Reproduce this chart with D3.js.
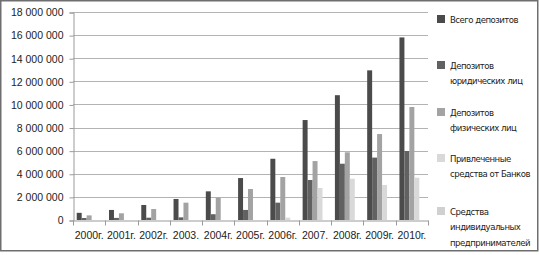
<!DOCTYPE html>
<html>
<head>
<meta charset="utf-8">
<script src="https://cdn.jsdelivr.net/npm/d3@7"></script>
<style>
  body { margin: 0; background: #fff; }
  svg { display: block; }
</style>
</head>
<body>
<div id="chart"></div>
<script>
const years = ["2000г.", "2001г.", "2002г.", "2003.", "2004г.", "2005г.", "2006г.", "2007.", "2008г.", "2009г.", "2010г."];

const seriesNames = [
    ["Всего депозитов"],
    ["Депозитов", "юридических лиц"],
    ["Депозитов", "физических лиц"],
    ["Привлеченные", "средства от Банков"],
    ["Средства", "индивидуальных", "предпринимателей"]
];

const totalDeposits = [620000, 870000, 1300000, 1820000, 2480000, 3630000, 5300000, 8650000, 10800000, 12950000, 15800000];
const legalDeposits = [170000, 180000, 200000, 230000, 500000, 870000, 1500000, 3460000, 4870000, 5400000, 5970000];
const privateDeposits = [400000, 580000, 950000, 1500000, 1930000, 2680000, 3720000, 5100000, 5860000, 7440000, 9780000];
const bankFunds = [0, 0, 0, 0, 0, 0, 200000, 2770000, 3570000, 3030000, 3660000];
const entrepreneurFunds = [0, 0, 0, 0, 0, 0, 0, 0, 0, 0, 0];

const yTicks = [0, 2000000, 4000000, 6000000, 8000000, 10000000, 12000000, 14000000, 16000000, 18000000];

const colors = ["#4b4b4b", "#616161", "#a3a3a3", "#d9d9d9", "#d0d0d0"];
const allSeries = [totalDeposits, legalDeposits, privateDeposits, bankFunds, entrepreneurFunds];

const width = 539, height = 255;
const margin = { left: 73, right: 111, top: 12, bottom: 35 };

const svg = d3.select("#chart").append("svg")
    .attr("width", width)
    .attr("height", height);

// outer frame
svg.append("rect")
    .attr("x", 0.75).attr("y", 0.75)
    .attr("width", width - 2).attr("height", 250)
    .attr("fill", "#fff")
    .attr("stroke", "#6f6f6f")
    .attr("stroke-width", 1.5);

const x = d3.scaleBand()
    .domain(years)
    .range([margin.left, width - margin.right]);

const bw = x.bandwidth();
const barW = bw / 6.5;
const x1 = d3.scaleBand()
    .domain(d3.range(5))
    .range([barW * 0.75, bw - barW * 0.75]);

const y = d3.scaleLinear()
    .domain([0, 18000000])
    .range([height - margin.bottom, margin.top]);

const ru = d3.formatLocale({ decimal: ",", thousands: "\u00a0", grouping: [3], currency: ["", ""] });
const fmt = ru.format(",d");

// gridlines
svg.append("g")
    .selectAll("line")
    .data(yTicks.slice(1))
    .enter().append("line")
    .attr("x1", margin.left).attr("x2", width - margin.right)
    .attr("y1", d => Math.round(y(d)) + 0.5).attr("y2", d => Math.round(y(d)) + 0.5)
    .attr("stroke", "#b3b3b3");

// y-axis
const yAxis = svg.append("g")
    .attr("transform", `translate(${margin.left + 0.5},0.5)`)
    .call(d3.axisLeft(y).tickValues(yTicks).tickFormat(fmt).tickSize(4).tickPadding(6));
yAxis.select(".domain").attr("stroke", "#9a9a9a");
yAxis.selectAll(".tick line").attr("stroke", "#9a9a9a");
yAxis.selectAll(".tick text")
    .attr("fill", "#222")
    .style("font-family", "Liberation Sans, Arial, sans-serif")
    .style("font-size", "10.5px");

// bars
const groups = svg.append("g")
    .selectAll("g")
    .data(years)
    .enter().append("g")
    .attr("transform", d => `translate(${x(d)},0)`);

groups.selectAll("rect")
    .data((d, i) => allSeries.map((s, k) => ({ k: k, v: s[i] })))
    .enter().append("rect")
    .attr("x", d => x1(d.k))
    .attr("width", x1.bandwidth())
    .attr("y", d => y(d.v))
    .attr("height", d => y(0) - y(d.v))
    .attr("fill", d => colors[d.k]);

// x-axis
const xAxis = svg.append("g")
    .attr("transform", `translate(0,${Math.round(y(0)) + 0.5})`)
    .call(d3.axisBottom(x).tickSize(0).tickPadding(11));
xAxis.select(".domain").attr("stroke", "#9a9a9a");
xAxis.selectAll(".tick text")
    .attr("fill", "#222")
    .style("font-family", "Liberation Sans, Arial, sans-serif")
    .style("font-size", "10.5px");

// category separators
xAxis.selectAll(".sep")
    .data(years.concat(["end"]))
    .enter().append("line")
    .attr("x1", (d, i) => Math.round(margin.left + i * bw) + 0.5)
    .attr("x2", (d, i) => Math.round(margin.left + i * bw) + 0.5)
    .attr("y1", 0).attr("y2", 5)
    .attr("stroke", "#9a9a9a");

// legend
const legendRows = [19, 65, 112, 158, 211];
const legend = svg.append("g")
    .selectAll("g")
    .data(seriesNames)
    .enter().append("g")
    .attr("transform", (d, i) => `translate(437,${legendRows[i]})`);

legend.append("rect")
    .attr("x", 0).attr("y", -4)
    .attr("width", 8).attr("height", 8)
    .attr("fill", (d, i) => colors[i]);

legend.each(function(lines) {
    const g = d3.select(this);
    lines.forEach((t, j) => {
        g.append("text")
            .attr("x", 13)
            .attr("y", j * 15.5 + 3.5)
            .style("font-family", "DejaVu Sans Condensed, Liberation Sans, sans-serif")
            .style("font-size", "9.5px")
            .style("letter-spacing", "-0.5px")
            .attr("fill", "#222")
            .text(t);
    });
});
</script>
</body>
</html>
